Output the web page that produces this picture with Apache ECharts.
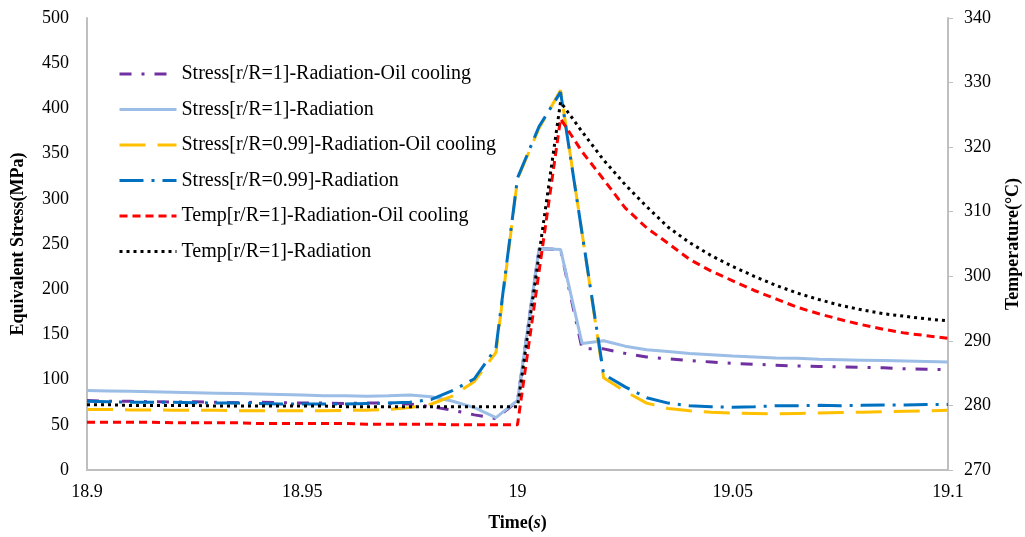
<!DOCTYPE html>
<html>
<head>
<meta charset="utf-8">
<script src="https://cdn.jsdelivr.net/npm/echarts@6/dist/echarts.min.js"></script>
<style>
  html, body { margin: 0; padding: 0; background: #fff; }
  #chart { width: 1025px; height: 537px; }
</style>
</head>
<body>
<div id="chart"></div>
<script>
// ---- data ----
const times = [18.9, 18.905, 18.91, 18.915, 18.92, 18.925, 18.93, 18.935, 18.94, 18.945,
  18.95, 18.955, 18.96, 18.965, 18.97, 18.975, 18.98, 18.985, 18.99, 18.995,
  19.0, 19.005, 19.01, 19.015, 19.02, 19.025, 19.03, 19.035, 19.04, 19.045,
  19.05, 19.055, 19.06, 19.065, 19.07, 19.075, 19.08, 19.085, 19.09, 19.095, 19.1];

const seriesNames = [
  'Stress[r/R=1]-Radiation-Oil cooling',
  'Stress[r/R=1]-Radiation',
  'Stress[r/R=0.99]-Radiation-Oil cooling',
  'Stress[r/R=0.99]-Radiation',
  'Temp[r/R=1]-Radiation-Oil cooling',
  'Temp[r/R=1]-Radiation'
];

const stressR1Oil = [77, 76, 76, 75.5, 75, 75.5, 75, 74.5, 75, 74.5,
  74, 74, 73.5, 74, 74, 73, 70, 66, 61, 57,
  76, 245, 244, 134, 134, 129, 125, 123, 121, 119.5,
  118, 117, 116, 115, 114.5, 114, 113.5, 113, 112, 111.5, 111];

const stressR1Rad = [88, 87.5, 87, 86.5, 86, 85.5, 85, 84.5, 84, 83.5,
  83, 82, 82, 81.5, 82, 83, 81, 76, 69, 58,
  77, 245, 244, 140, 143, 137, 133, 131, 129, 127.5,
  126, 125, 124, 123.5, 122.5, 122, 121.5, 121, 120.5, 120, 119.5];

const stress099Oil = [67, 67, 66.5, 66.5, 66, 66, 66, 65.5, 65.5, 65.5,
  65.5, 65.5, 66, 66, 67, 69, 73, 82, 98, 130,
  322, 378, 420, 262, 102, 87, 74, 68, 65.5, 64,
  63, 62.5, 62, 62.5, 63, 63.5, 64, 64.5, 65, 65.5, 66];

const stress099Rad = [76, 75.5, 75, 75, 75, 74.5, 74, 74, 73.5, 73,
  73, 73, 73, 73.5, 74, 75, 78, 88, 101, 135,
  323, 380, 418, 262, 106, 92, 80, 74, 71, 70,
  69.5, 70, 71, 71, 71.5, 71, 71.5, 72, 72, 72.5, 72.5];

const tempR1Oil = [277.4, 277.4, 277.4, 277.4, 277.3, 277.3, 277.3, 277.3, 277.2, 277.2,
  277.2, 277.2, 277.2, 277.1, 277.1, 277.1, 277.1, 277.0, 277.0, 277.0,
  277.0, 300.7, 324.4, 319.3, 315.0, 310.6, 307.5, 305.1, 302.6, 300.8,
  299.3, 297.8, 296.5, 295.2, 294.2, 293.3, 292.5, 291.8, 291.2, 290.8, 290.4];

const tempR1Rad = [280.1, 280.1, 280.0, 280.0, 280.0, 280.0, 279.9, 279.9, 279.9, 279.9,
  279.9, 279.9, 279.8, 279.8, 279.8, 279.8, 279.8, 279.8, 279.8, 279.8,
  279.8, 303.4, 327.0, 322.4, 318.0, 314.2, 310.8, 307.6, 305.2, 303.2,
  301.5, 300.0, 298.6, 297.4, 296.4, 295.5, 294.8, 294.2, 293.8, 293.4, 293.1];

// ---- build chart ----
const pair = arr => times.map((t, i) => [t, arr[i]]);
const FONT = 'Liberation Serif';

function lineSeries(name, arr, yIdx, color, type, width) {
  return {
    name: name,
    type: 'line',
    yAxisIndex: yIdx,
    data: pair(arr),
    symbol: 'none',
    showSymbol: false,
    smooth: false,
    lineStyle: { color: color, width: width, type: type },
    itemStyle: { color: color },
    emphasis: { disabled: true },
    animation: false
  };
}

const chart = echarts.init(document.getElementById('chart'), null, { renderer: 'canvas' });
chart.setOption({
  backgroundColor: '#ffffff',
  animation: false,
  grid: { left: 87, right: 77, top: 18, bottom: 67, containLabel: false, outerBoundsMode: 'none' },
  legend: {
    orient: 'vertical',
    left: 113,
    top: 59,
    itemWidth: 57,
    itemHeight: 14,
    itemGap: 15.5,
    data: seriesNames,
    itemStyle: { opacity: 0, borderWidth: 0 },
    lineStyle: { width: 3 },
    textStyle: { fontFamily: FONT, fontSize: 20, color: '#000' }
  },
  xAxis: {
    type: 'value',
    min: 18.9,
    max: 19.1,
    interval: 0.05,
    name: 'Time({i|s})',
    nameLocation: 'middle',
    nameGap: 44,
    nameTextStyle: {
      fontFamily: FONT, fontSize: 18, fontWeight: 'bold', color: '#000',
      rich: { i: { fontFamily: FONT, fontSize: 18, fontWeight: 'bold', fontStyle: 'italic', color: '#000' } }
    },
    axisLine: { show: true, onZero: false, lineStyle: { color: '#BFBFBF', width: 2 } },
    axisTick: { show: false },
    splitLine: { show: false },
    axisLabel: {
      fontFamily: FONT, fontSize: 18, color: '#000', margin: 13,
      formatter: v => String(+v.toFixed(2))
    }
  },
  yAxis: [
    {
      type: 'value',
      min: 0,
      max: 500,
      interval: 50,
      position: 'left',
      name: 'Equivalent Stress(MPa)',
      nameLocation: 'middle',
      nameGap: 60,
      nameTextStyle: { fontFamily: FONT, fontSize: 18, fontWeight: 'bold', color: '#000' },
      axisLine: { show: true, lineStyle: { color: '#BFBFBF', width: 2 } },
      axisTick: { show: false },
      splitLine: { show: false },
      axisLabel: { fontFamily: FONT, fontSize: 18, color: '#000', margin: 18 }
    },
    {
      type: 'value',
      min: 270,
      max: 340,
      interval: 10,
      position: 'right',
      name: 'Temperature(°C)',
      nameLocation: 'middle',
      nameGap: 56,
      nameTextStyle: { fontFamily: FONT, fontSize: 18, fontWeight: 'bold', color: '#000' },
      axisLine: { show: true, lineStyle: { color: '#BFBFBF', width: 2 } },
      axisTick: { show: true, inside: false, length: 5, lineStyle: { color: '#BFBFBF', width: 1 } },
      splitLine: { show: false },
      axisLabel: { fontFamily: FONT, fontSize: 18, color: '#000', margin: 16 }
    }
  ],
  series: [
    lineSeries(seriesNames[0], stressR1Oil, 0, '#7030A0', [12, 10, 3, 10], 3),
    lineSeries(seriesNames[1], stressR1Rad, 0, '#9BBDE6', 'solid', 3),
    lineSeries(seriesNames[2], stress099Oil, 0, '#FFC000', [26, 12], 3),
    lineSeries(seriesNames[3], stress099Rad, 0, '#0070C0', [24, 8, 3, 8], 3),
    lineSeries(seriesNames[4], tempR1Oil, 1, '#FF0000', [8, 5], 3),
    lineSeries(seriesNames[5], tempR1Rad, 1, '#000000', [3, 4], 3)
  ]
});
</script>
</body>
</html>
